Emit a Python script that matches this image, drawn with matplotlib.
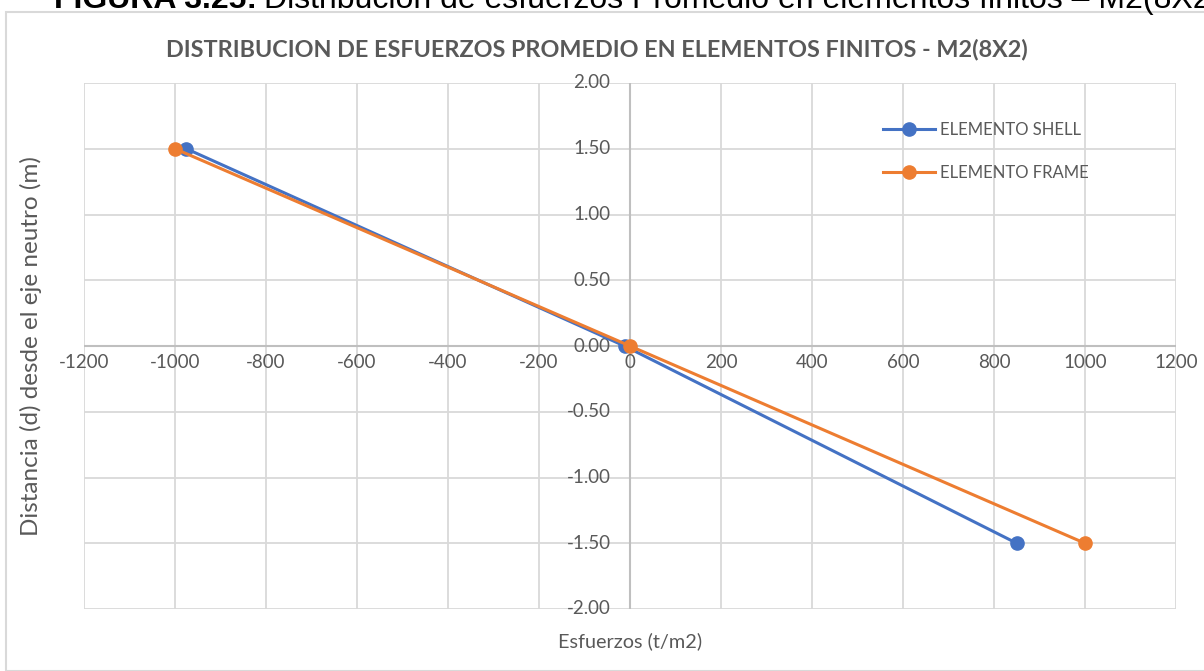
import matplotlib
matplotlib.use("Agg")
import matplotlib.pyplot as plt

# esfuerzos promedio (t/m2) vs distancia al eje neutro (m)
dist = [1.5, 0.0, -1.5]
esf_shell = [-975, -12, 850]
esf_frame = [-1000, 0, 1000]

xticks = list(range(-1200, 1201, 200))
yticks = [2.0, 1.5, 1.0, 0.5, 0.0, -0.5, -1.0, -1.5, -2.0]

azul = "#4472C4"
naranja = "#ED7D31"
gris = "#595959"
rejilla = "#d9d9d9"

plt.rcParams["font.family"] = ["Lato", "DejaVu Sans"]

W, H = 1204, 671
fig = plt.figure(figsize=(W / 100, H / 100), dpi=100)

# marco del grafico
fig.patches.append(plt.Rectangle((6 / W, 0.0), 1.2, 1 - 12 / H, transform=fig.transFigure,
                                 fill=False, edgecolor=rejilla, linewidth=1.5))

# leyenda de la figura, pegada al borde superior
t1 = fig.text(54 / W, 1 - 8 / H, "FIGURA 3.25:", fontsize=23, fontweight="bold",
              family=["Liberation Sans"], va="baseline", ha="left", color="black")
fig.canvas.draw()
x_fin = t1.get_window_extent().x1
fig.text((x_fin + 7) / W, 1 - 8 / H,
         "Distribución de esfuerzos Promedio en elementos finitos – M2(8X2)",
         fontsize=23, family=["Liberation Sans"], va="baseline", ha="left", color="black")

fig.text(597 / W, 1 - 49 / H,
         "DISTRIBUCION DE ESFUERZOS PROMEDIO EN ELEMENTOS FINITOS - M2(8X2)",
         fontsize=16.8, fontweight="bold", color=gris, ha="center", va="center")

ax = fig.add_axes([84 / W, 1 - 609 / H, (1176 - 84) / W, (609 - 83) / H])
ax.set_xlim(-1200, 1200)
ax.set_ylim(-2, 2)
ax.set_xticks(xticks)
ax.set_yticks(yticks)
ax.grid(True, color=rejilla, linewidth=1.3)
ax.set_axisbelow(True)
for s in ax.spines.values():
    s.set_visible(False)
ax.tick_params(length=0, labelbottom=False, labelleft=False)
ax.axhline(0, color="#bfbfbf", linewidth=1.5, zorder=1)
ax.axvline(0, color="#bfbfbf", linewidth=1.5, zorder=1)

# etiquetas de los ejes junto a los ejes en cero
for x in xticks:
    ax.annotate(str(x), (x, 0), xytext=(0, -12), textcoords="offset points",
                ha="center", va="center", fontsize=13.5, color=gris)
for y in yticks:
    ax.annotate(f"{y:.2f}", (0, y), xytext=(-14, 0), textcoords="offset points",
                ha="right", va="center", fontsize=13.5, color=gris)

ax.plot(esf_shell, dist, color=azul, linewidth=2.2, marker="o", markersize=9.5,
        label="ELEMENTO SHELL", zorder=3)
ax.plot(esf_frame, dist, color=naranja, linewidth=2.2, marker="o", markersize=9.5,
        label="ELEMENTO FRAME", zorder=4)

leg = ax.legend(loc="upper left", bbox_to_anchor=(784 / 1092, 1 - 24 / 526), frameon=False,
                fontsize=12, handlelength=3.1, handletextpad=0.3, labelspacing=1.6,
                labelcolor=gris)

ax.set_xlabel("Esfuerzos (t/m2)", fontsize=14.3, color=gris, labelpad=17)
ax.set_ylabel("Distancia (d) desde el eje neutro (m)", fontsize=17.5, color=gris, labelpad=30)

fig.savefig("out.png", dpi=100)
